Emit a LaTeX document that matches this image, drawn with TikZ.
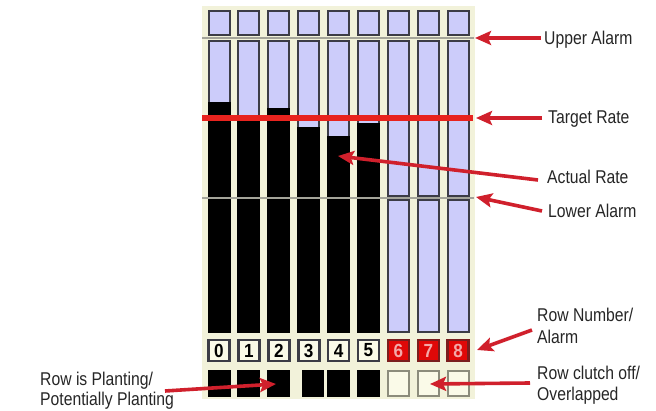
\documentclass[tikz,border=0pt]{standalone}
\usepackage{fontspec}
\setmainfont{Liberation Sans}
\newfontfamily\labfont{Liberation Sans}[FakeStretch=0.85]
\newfontfamily\digfont{Liberation Sans}[FakeStretch=0.9]
\usetikzlibrary{arrows.meta}
\definecolor{panelbg}{HTML}{F2F2DA}
\definecolor{lav}{HTML}{CCCCFA}
\definecolor{edge}{HTML}{3C3C46}
\definecolor{tgt}{HTML}{E8231E}
\definecolor{arr}{HTML}{D0202C}
\definecolor{alarmred}{HTML}{E00808}
\definecolor{alarmedge}{HTML}{7A1E1E}
\definecolor{alarmdigit}{HTML}{F4A8A8}
\definecolor{cream}{HTML}{FAFAE8}
\definecolor{sepgray}{HTML}{A4A49A}
\definecolor{offedge}{HTML}{8C8C7C}
\tikzset{
  redarrow/.style={draw=arr, line width=3.6pt, -{Stealth[length=16pt,width=14pt,inset=3pt]}},
  lab/.style={anchor=base west, inner sep=0pt, font=\labfont\fontsize{18.5}{21}\selectfont, text=black!85},
  digit/.style={inner sep=0pt, font=\digfont\bfseries\fontsize{19}{19}\selectfont},
  barbox/.style={fill=lav, draw=edge, line width=2pt},
}
\begin{document}
\begin{tikzpicture}[x=1pt,y=-1pt]
\useasboundingbox (0,0) rectangle (656,411);
\fill[white] (0,0) rectangle (656,411);
% panel
\fill[panelbg] (202,6) rectangle (475,399);
% bars
\foreach \i in {0,...,8} {
  \pgfmathsetmacro\xa{208.5+29.9*\i}
  \pgfmathsetmacro\xb{\xa+21}
  \draw[barbox] (\xa,11) rectangle (\xb,35);
  \draw[barbox] (\xa,41) rectangle (\xb,196);
  \draw[barbox] (\xa,200) rectangle (\xb,332);
}
% actual rate fills
\foreach \i/\lv in {0/102,1/117,2/108,3/127,4/136,5/123} {
  \pgfmathsetmacro\xa{208.5+29.9*\i}
  \fill[black] (\xa-1,\lv) rectangle (\xa+22,197);
  \fill[black] (\xa-1,199) rectangle (\xa+22,333);
}
% separators
\draw[sepgray, line width=2.2pt] (202,38) -- (474,38);
\draw[sepgray, line width=2pt] (202,198) -- (474,198);
% target line
\fill[tgt] (202,115) rectangle (473,121);
% row numbers
\foreach \i in {0,...,5} {
  \pgfmathsetmacro\xa{208.5+29.9*\i}
  \draw[fill=cream, draw=edge, line width=2.6pt] (\xa,340) rectangle (\xa+21,361);
  \node[digit] (d\i) at (\xa+10.5,350.5) {\i};
}
\foreach \i in {6,7,8} {
  \pgfmathsetmacro\xa{208.5+29.9*\i}
  \draw[fill=alarmred, draw=alarmedge, line width=2.6pt] (\xa,340) rectangle (\xa+21,361);
  \node[digit, text=alarmdigit] (d\i) at (\xa+10.5,350.5) {\i};
}
% clutch boxes
\foreach \i in {0,1,2,4,5} {
  \pgfmathsetmacro\xa{208.5+29.9*\i}
  \fill[black] (\xa-1,370) rectangle (\xa+22,397);
}
\fill[black] (302,370) rectangle (324,397);
\foreach \i in {6,7,8} {
  \pgfmathsetmacro\xa{208.5+29.9*\i}
  \draw[fill=cream, draw=offedge, line width=2pt] (\xa,371) rectangle (\xa+21,396);
}
% labels
\node[lab] (ua) at (544,45) {Upper Alarm};
\node[lab] (tr) at (548,124) {Target Rate};
\node[lab] (ar) at (547,184) {Actual Rate};
\node[lab] (la) at (548,218) {Lower Alarm};
\node[lab] (rn1) at (537,322) {Row Number/};
\node[lab] (rn2) at (537,344) {Alarm};
\node[lab] (rc1) at (537,380) {Row clutch off/};
\node[lab] (rc2) at (537,401) {Overlapped};
\node[lab] (rp1) at (40,386) {Row is Planting/};
\node[lab] (rp2) at (40,406) {Potentially Planting};
% arrow ends
\coordinate (uaT) at (541,38);  \coordinate (uaH) at (475,38);
\coordinate (trT) at (542,118); \coordinate (trH) at (476,118);
\coordinate (arT) at (538,180); \coordinate (arH) at (338,156);
\coordinate (laT) at (542,211); \coordinate (laH) at (476,197);
\coordinate (rnT) at (532,330); \coordinate (rnH) at (477,350);
\coordinate (rcT) at (530,383); \coordinate (rcH) at (430,384);
\coordinate (rpT) at (165,391); \coordinate (rpH) at (276,384);
\draw[redarrow] (uaT) -- (uaH);
\draw[redarrow] (trT) -- (trH);
\draw[redarrow] (arT) -- (arH);
\draw[redarrow] (laT) -- (laH);
\draw[redarrow] (rnT) -- (rnH);
\draw[redarrow] (rcT) -- (rcH);
\draw[redarrow] (rpT) -- (rpH);
\end{tikzpicture}
\end{document}
